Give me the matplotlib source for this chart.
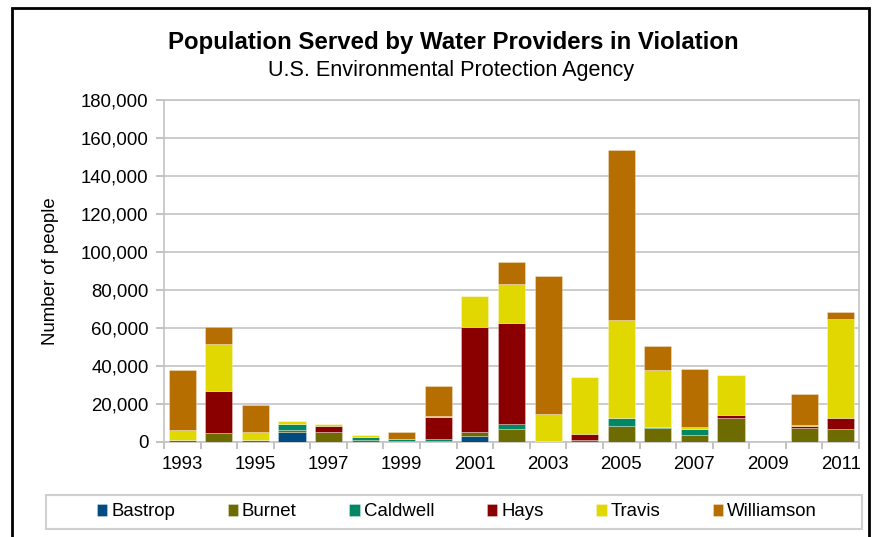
import matplotlib
matplotlib.use("Agg")
import matplotlib.pyplot as plt
from matplotlib.patches import Rectangle
from matplotlib.ticker import FuncFormatter, MultipleLocator
import numpy as np

plt.rcParams['font.family'] = ['Liberation Sans', 'DejaVu Sans']

years = list(range(1993, 2012))
series_names = ["Bastrop", "Burnet", "Caldwell", "Hays", "Travis", "Williamson"]
colors = ["#004b7f", "#6e6b00", "#008766", "#8a0000", "#e0d800", "#b76e00"]

bastrop    = [0, 0, 0, 5400, 0, 0, 0, 0, 3300, 0, 0, 0, 0, 0, 0, 0, 0, 0, 0]
burnet     = [1000, 4700, 1000, 700, 5300, 1200, 300, 300, 1900, 7000, 700, 1000, 8200, 7400, 3900, 12400, 0, 7200, 6800]
caldwell   = [300, 0, 0, 3300, 0, 1600, 1500, 1500, 0, 2500, 0, 0, 4600, 500, 2800, 0, 0, 0, 0]
hays       = [0, 22100, 0, 0, 3300, 0, 0, 11600, 55300, 53100, 0, 3300, 0, 0, 0, 1600, 0, 1400, 6000]
travis     = [4900, 24700, 4400, 1400, 1000, 700, 0, 300, 16300, 20700, 13900, 29900, 51200, 30000, 1200, 21200, 0, 300, 51700]
williamson = [31900, 9150, 14200, 0, 0, 0, 3700, 15800, 0, 11400, 72900, 0, 89600, 12600, 30500, 300, 0, 16300, 4000]

data = [bastrop, burnet, caldwell, hays, travis, williamson]

W, H = 873, 537
FS = 13.4
fig = plt.figure(figsize=(W/100, H/100), dpi=100)
ax = fig.add_axes([164/W, 1-442/H, (859-164)/W, (442-100)/H])

x = np.arange(len(years))
bottom = np.zeros(len(years))
for name, vals, c in zip(series_names, data, colors):
    v = np.array(vals, dtype=float)
    ax.bar(x, v, width=0.74, bottom=bottom, color=c, label=name,
           edgecolor=(1, 1, 1, 0.35), linewidth=0.6, zorder=3)
    bottom += v

ax.set_xlim(-0.5, len(years) - 0.5)
ax.set_ylim(0, 180000)
ax.yaxis.set_major_locator(MultipleLocator(20000))
ax.yaxis.set_major_formatter(FuncFormatter(lambda v, p: f"{int(v):,}"))
ax.grid(axis='y', color='#c4c4c4', linewidth=1.2, zorder=0)

ax.set_xticks(x[::2])
ax.set_xticklabels([str(y) for y in years[::2]])
ax.set_xticks(np.arange(-0.5, len(years)), minor=True)
ax.tick_params(axis='x', which='major', length=0, labelsize=FS, pad=10)
ax.tick_params(axis='x', which='minor', length=5, color='#b8b8b8', width=1.2)
ax.tick_params(axis='y', length=6, color='#b8b8b8', width=1.2, labelsize=FS, pad=5)

for s in ['left', 'bottom', 'top', 'right']:
    ax.spines[s].set_color('#c4c4c4')
    ax.spines[s].set_linewidth(1.2)

ax.set_ylabel("Number of people", fontsize=FS, labelpad=16)

fig.text(453/W, 1-43/H, "Population Served by Water Providers in Violation",
         ha='center', va='center', fontsize=17.3, fontweight='bold')
fig.text(451/W, 1-70.5/H, "U.S. Environmental Protection Agency",
         ha='center', va='center', fontsize=15.6)

# legend box
fig.patches.append(Rectangle((46/W, 1-529/H), (862-46)/W, (529-495)/H,
                             transform=fig.transFigure, fill=True,
                             facecolor='white', edgecolor='#d0d0d0',
                             linewidth=1.5, zorder=1))
leg = fig.legend(loc='center', ncol=6,
                 bbox_to_anchor=(457/W, 1-512/H),
                 fontsize=FS, handlelength=0.55, handleheight=0.55,
                 handletextpad=0.22, frameon=False,
                 borderaxespad=0, borderpad=0, columnspacing=2.83)
leg.set_zorder(2)

fig.patches.append(Rectangle((12/W, -0.02), (869-12)/W, 1-8/H+0.02,
                             transform=fig.transFigure, fill=False,
                             edgecolor='black', linewidth=2))

fig.savefig("out.png", dpi=100)
